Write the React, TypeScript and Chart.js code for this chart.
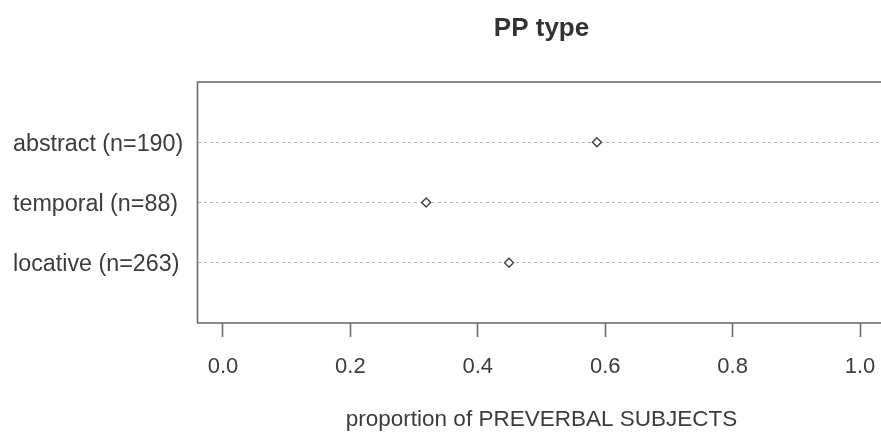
import React, { useEffect, useRef } from "react";
import { Chart, registerables } from "chart.js";

Chart.register(...registerables);

const CATEGORIES = ["locative (n=263)", "temporal (n=88)", "abstract (n=190)"];
const ROW_POS = [1, 2, 3];
const PROPORTIONS = [0.449, 0.319, 0.587];
const X_TICKS = [0, 0.2, 0.4, 0.6, 0.8, 1.0];
const X_MIN = -0.04;
const X_MAX = 1.04;
const Y_MIN = 0;
const Y_MAX = 4;
const TITLE = "PP type";
const X_TITLE = "proportion of PREVERBAL SUBJECTS";

const FONT = "'Liberation Sans', Arial, Helvetica, sans-serif";
const TEXT = "#3c3c3c";

const boxPlugin = {
  id: "boxPlugin",
  afterDatasetsDraw(chart: any) {
    const { ctx, chartArea } = chart;
    ctx.save();
    ctx.strokeStyle = "#6e6e6e";
    ctx.lineWidth = 1.6;
    ctx.strokeRect(chartArea.left, chartArea.top, chartArea.right - chartArea.left, chartArea.bottom - chartArea.top);
    ctx.restore();
  },
};

export default function App() {
  const ref = useRef<HTMLCanvasElement | null>(null);
  useEffect(() => {
    if (!ref.current) return;
    const chart = new Chart(ref.current, {
      type: "scatter",
      data: {
        datasets: [
          {
            data: PROPORTIONS.map((v, i) => ({ x: v, y: ROW_POS[i] })),
            pointStyle: "rectRot",
            pointRadius: 4.5,
            pointBorderWidth: 1.4,
            pointBorderColor: "#404040",
            pointBackgroundColor: "#ffffff",
            showLine: false,
          },
        ],
      },
      options: {
        responsive: false,
        animation: false,
        events: [],
        layout: { padding: { left: 13, right: 14.5, top: 0, bottom: 0 } },
        plugins: {
          legend: { display: false },
          tooltip: { enabled: false },
          title: {
            display: true,
            text: TITLE,
            fullSize: false,
            color: "#333333",
            font: { family: FONT, size: 26, weight: "bold" },
            padding: { top: 13.5, bottom: 37.3 },
          },
        },
        scales: {
          x: {
            type: "linear",
            min: X_MIN,
            max: X_MAX,
            afterBuildTicks: (s: any) => {
              s.ticks = X_TICKS.map((v) => ({ value: v }));
            },
            afterFit: (s: any) => {
              s.height = 110;
            },
            ticks: {
              color: TEXT,
              font: { family: FONT, size: 22 },
              padding: 17,
              callback: (v: any) => Number(v).toFixed(1),
              maxRotation: 0,
            },
            grid: {
              drawOnChartArea: false,
              drawTicks: true,
              tickLength: 14,
              tickColor: "#6e6e6e",
              tickWidth: 1.6,
            },
            border: { display: false },
            title: {
              display: true,
              text: X_TITLE,
              color: TEXT,
              font: { family: FONT, size: 22.5 },
              padding: { top: 0, bottom: 0 },
            },
          },
          y: {
            type: "linear",
            min: Y_MIN,
            max: Y_MAX,
            afterBuildTicks: (s: any) => {
              s.ticks = ROW_POS.map((v) => ({ value: v }));
            },
            afterFit: (s: any) => {
              s.width = 184.5;
            },
            ticks: {
              color: TEXT,
              font: { family: FONT, size: 23.3 },
              padding: 13,
              crossAlign: "far",
              labelOffset: 2,
              callback: (v: any) => {
                const i = ROW_POS.indexOf(Number(v));
                return i >= 0 ? CATEGORIES[i] : "";
              },
            },
            grid: {
              drawOnChartArea: true,
              drawTicks: false,
              color: "#b4b4b4",
              lineWidth: 1,
            },
            border: { display: false, dash: [3, 3] },
          },
        },
      },
      plugins: [boxPlugin],
    } as any);
    return () => chart.destroy();
  }, []);
  return (
    <div style={{ position: "fixed", left: 0, top: 0, width: 881, height: 433, overflow: "hidden", background: "#fff" }}>
      <canvas ref={ref} width={900} height={433} style={{ width: 900, height: 433, display: "block" }} />
    </div>
  );
}
